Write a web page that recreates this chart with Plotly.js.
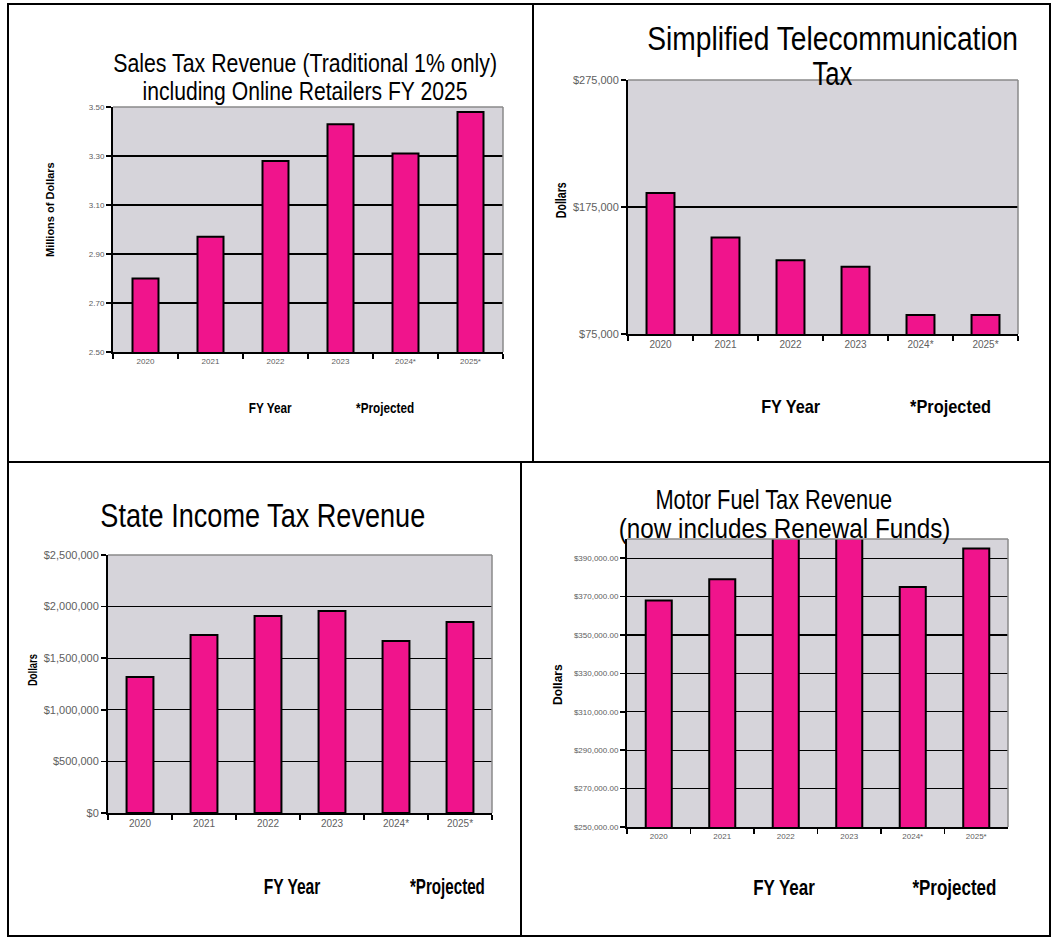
<!DOCTYPE html>
<html>
<head>
<meta charset="utf-8">
<script src="https://cdn.plot.ly/plotly-3.0.1.min.js"></script>
<style>
html,body{margin:0;padding:0;background:#fff;}
#chart{width:1054px;height:939px;}
</style>
</head>
<body>
<div id="chart"></div>
<script>
// ---- data ----
const years = ['2020', '2021', '2022', '2023', '2024*', '2025*'];
const salesTax = [2.80, 2.97, 3.28, 3.43, 3.31, 3.48];          // millions of dollars
const telecomTax = [186000, 151000, 133000, 128000, 90000, 90000];
const incomeTax = [1318000, 1725000, 1909000, 1957000, 1667000, 1851000];
const motorFuelTax = [368000, 379000, 404000, 404000, 375000, 395000];

const salesTicks = [2.5, 2.7, 2.9, 3.1, 3.3, 3.5];
const telecomTicks = [75000, 175000, 275000];
const incomeTicks = [0, 500000, 1000000, 1500000, 2000000, 2500000];
const fuelTicks = [250000, 270000, 290000, 310000, 330000, 350000, 370000, 390000];

const titles = {
  sales: ['Sales Tax Revenue (Traditional 1% only)', 'including Online Retailers FY 2025'],
  telecom: ['Simplified Telecommunication', 'Tax'],
  income: ['State Income Tax Revenue'],
  fuel: ['Motor Fuel Tax Revenue', '(now includes Renewal Funds)']
};
const xTitle = 'FY Year';
const note = '*Projected';

// ---- helpers ----
const W = 1054, H = 939;
const px = x => x / W;
const py = y => 1 - y / H;
const SANS = "'Liberation Sans', Arial, sans-serif";
const BAR = '#f0148c';
const TICKC = '#606060';

function barTrace(y, xa, ya, w) {
  return {
    type: 'bar', x: years, y: y, xaxis: xa, yaxis: ya, width: w,
    marker: {color: BAR, line: {color: '#000', width: 2}},
    hoverinfo: 'x+y', showlegend: false
  };
}

const data = [
  barTrace(salesTax, 'x', 'y', 0.4),
  barTrace(telecomTax, 'x2', 'y2', 0.43),
  barTrace(incomeTax, 'x3', 'y3', 0.42),
  barTrace(motorFuelTax, 'x4', 'y4', 0.41)
];

function xax(x0, x1, anchor, fs) {
  return {
    type: 'category', domain: [px(x0), px(x1)], anchor: anchor,
    showline: true, linecolor: '#000', linewidth: 2,
    ticks: 'outside', tickson: 'boundaries', ticklen: 5, tickcolor: '#000', tickwidth: 1.5,
    tickfont: {family: SANS, size: fs, color: TICKC},
    showgrid: false, zeroline: false, fixedrange: true
  };
}
function yax(y0, y1, anchor, range, tickvals, fmt, fs) {
  return {
    domain: [py(y1), py(y0)], anchor: anchor, range: range,
    tickmode: 'array', tickvals: tickvals, tickformat: fmt,
    showline: true, linecolor: '#000', linewidth: 2,
    ticks: 'outside', ticklen: 5, tickcolor: '#000', tickwidth: 1.5,
    tickfont: {family: SANS, size: fs, color: TICKC},
    showgrid: true, gridcolor: '#000', gridwidth: 1.3,
    zeroline: false, fixedrange: true
  };
}

const layout = {
  width: W, height: H,
  margin: {l: 0, r: 0, t: 0, b: 0},
  paper_bgcolor: '#ffffff',
  plot_bgcolor: '#d6d4da',
  showlegend: false,
  bargap: 0,
  xaxis: xax(113, 503, 'y', 8),
  yaxis: yax(107, 352, 'x', [2.5, 3.5], salesTicks, '.2f', 8),
  xaxis2: xax(628, 1018, 'y2', 10),
  yaxis2: yax(80, 334, 'x2', [75000, 275000], telecomTicks, '$,.0f', 11),
  xaxis3: xax(108, 492, 'y3', 10),
  yaxis3: yax(555, 813, 'x3', [0, 2500000], incomeTicks, '$,.0f', 11),
  xaxis4: xax(627, 1008, 'y4', 8),
  yaxis4: yax(539, 827, 'x4', [250000, 400000], fuelTicks, '$,.2f', 8),
  shapes: [],
  annotations: []
};

// panel frames
const frames = [[8, 4, 533, 462], [533, 4, 1050, 462], [8, 462, 521, 936], [521, 462, 1050, 936]];
frames.forEach(f => layout.shapes.push({
  type: 'rect', xref: 'paper', yref: 'paper',
  x0: px(f[0]), x1: px(f[2]), y0: py(f[3]), y1: py(f[1]),
  line: {color: '#000', width: 2}, fillcolor: 'rgba(0,0,0,0)', layer: 'above'
}));
// plot-area top/right gray borders
[[113, 107, 503, 352], [628, 80, 1018, 334], [108, 555, 492, 813], [627, 539, 1008, 827]].forEach(p => {
  layout.shapes.push({type: 'line', xref: 'paper', yref: 'paper', x0: px(p[0]), x1: px(p[2]), y0: py(p[1]), y1: py(p[1]), line: {color: '#8a8a8a', width: 1.5}, layer: 'above'});
  layout.shapes.push({type: 'line', xref: 'paper', yref: 'paper', x0: px(p[2]), x1: px(p[2]), y0: py(p[1]), y1: py(p[3]), line: {color: '#8a8a8a', width: 1.5}, layer: 'above'});
});

// target rendered widths (for condensed, Arial-Narrow-like text)
const targetW = [];
function ann(text, x, y, size, w, opts) {
  targetW.push(w);
  layout.annotations.push(Object.assign({
    text: text, xref: 'paper', yref: 'paper', x: px(x), y: py(y),
    xanchor: 'center', yanchor: 'middle', showarrow: false,
    font: {family: SANS, size: size, color: '#000'}
  }, opts || {}));
}

// chart titles
ann(titles.sales[0], 305, 63, 26, 384);
ann(titles.sales[1], 305, 91, 26, 325);
ann(titles.telecom[0], 832, 38, 34, 371);
ann(titles.telecom[1], 832, 73, 34, 40);
ann(titles.income[0], 263, 515, 33, 325);
ann(titles.fuel[0], 774, 500, 27, 237);
ann(titles.fuel[1], 784, 529, 27, 332);

// y axis titles
const B = s => '<b>' + s + '</b>';
ann(B('Millions of Dollars'), 50, 210, 11, 106, {textangle: -90});
ann(B('Dollars'), 561, 200, 14, 36, {textangle: -90});
ann(B('Dollars'), 32, 670, 13, 32, {textangle: -90});
ann(B('Dollars'), 558, 685, 12, 45, {textangle: -90});

// x axis labels
ann(B(xTitle), 270, 407, 15, 43);
ann(B(note), 385, 407, 15, 58);
ann(B(xTitle), 790, 407, 18, 59);
ann(B(note), 950, 407, 18, 81);
ann(B(xTitle), 292, 886, 22, 57);
ann(B(note), 447, 886, 22, 75);
ann(B(xTitle), 784, 887, 22, 62);
ann(B(note), 954, 887, 22, 84);

Plotly.newPlot('chart', data, layout, {displayModeBar: false, staticPlot: true}).then(gd => {
  gd.querySelectorAll('g.annotation').forEach(g => {
    const i = +g.getAttribute('data-index');
    const w = targetW[i];
    const t = g.querySelector('text.annotation-text');
    if (!w || !t) return;
    const bb = t.getBBox();
    if (!bb.width) return;
    const sx = Math.min(1, w / bb.width);
    const cx = bb.x + bb.width / 2;
    t.setAttribute('transform', 'translate(' + cx + ',0) scale(' + sx + ',1) translate(' + (-cx) + ',0)');
  });
});
</script>
</body>
</html>
